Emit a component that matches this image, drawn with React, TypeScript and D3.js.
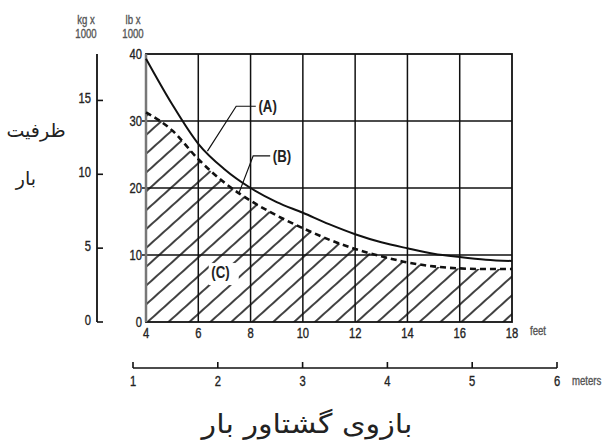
import { area, curveMonotoneX, line, scaleLinear } from 'd3'

// load moment (lb x 1000) against load radius (feet)
const feet = [4, 5, 6, 7, 8, 9, 10, 11, 12, 13, 14, 15, 16, 17, 18]
const curveA = [39.3, 32.5, 26.6, 22.8, 20.0, 17.9, 16.3, 14.6, 13.1, 11.9, 11.0, 10.2, 9.7, 9.3, 9.1]
const curveB = [31.3, 28.6, 24.3, 20.8, 18.1, 15.9, 14.0, 12.3, 10.9, 9.8, 8.9, 8.3, 8.0, 7.9, 7.9]

const feetTicks = [4, 6, 8, 10, 12, 14, 16, 18]
const lbTicks = [0, 10, 20, 30, 40]
const kgTicks = [0, 5, 10, 15]
const meterTicks = [1, 2, 3, 4, 5, 6]

const yTitle = ['ظرفیت', 'بار']
const xTitle = 'بازوی گشتاور بار'

const W = 615
const H = 441
const FONT = "'Liberation Sans', Arial, sans-serif"
const FA = "'DejaVu Sans', sans-serif"

// condensed text: Liberation Sans squeezed horizontally
function T({
  x,
  y,
  size = 13,
  anchor = 'start',
  fill = '#222',
  bold = false,
  sx = 0.8,
  children,
}: {
  x: number
  y: number
  size?: number
  anchor?: 'start' | 'middle' | 'end'
  fill?: string
  bold?: boolean
  sx?: number
  children: React.ReactNode
}) {
  return (
    <text
      transform={`translate(${x},${y}) scale(${sx},1)`}
      textAnchor={anchor}
      fontFamily={FONT}
      fontSize={size}
      fontWeight={bold ? 'bold' : 'normal'}
      fill={fill}
      stroke={bold ? 'none' : fill}
      strokeWidth={bold ? 0 : 0.35}
    >
      {children}
    </text>
  )
}

export default function App() {
  const x = scaleLinear().domain([4, 18]).range([146, 512])
  const y = scaleLinear().domain([0, 40]).range([322, 54])
  const yKg = scaleLinear().domain([0, 40 / 2.2046]).range([322, 54])
  const xM = scaleLinear().domain([1, 6]).range([133, 557])

  const pts = (vals: number[]) => feet.map((f, i) => [f, vals[i]] as [number, number])

  const lineGen = line<[number, number]>()
    .x((d) => x(d[0]))
    .y((d) => y(d[1]))
    .curve(curveMonotoneX)

  const areaGen = area<[number, number]>()
    .x((d) => x(d[0]))
    .y0(y(0))
    .y1((d) => y(d[1]))
    .curve(curveMonotoneX)

  const gridX = feetTicks.slice(1, -1)
  const gridY = lbTicks.slice(1, -1)

  return (
    <svg
      width={W}
      height={H}
      style={{ position: 'absolute', left: 0, top: 0, background: '#fff' }}
    >
      <defs>
        <pattern
          id="hatch"
          patternUnits="userSpaceOnUse"
          width={14}
          height={14}
          patternTransform="rotate(48)"
        >
          <line x1={2} y1={0} x2={2} y2={14} stroke="#111" strokeWidth={1.6} />
        </pattern>
      </defs>

      {/* hatched region under curve B */}
      <path d={areaGen(pts(curveB)) ?? ''} fill="url(#hatch)" />

      {/* grid */}
      {gridX.map((f) => (
        <line key={'gx' + f} x1={x(f)} x2={x(f)} y1={y(40)} y2={y(0)} stroke="#111" strokeWidth={1.5} />
      ))}
      {gridY.map((v) => (
        <line key={'gy' + v} x1={x(4) - 4} x2={x(18)} y1={y(v)} y2={y(v)} stroke="#111" strokeWidth={1.5} />
      ))}
      <rect
        x={x(4)}
        y={y(40)}
        width={x(18) - x(4)}
        height={y(0) - y(40)}
        fill="none"
        stroke="#111"
        strokeWidth={1.8}
      />
      <line x1={x(4)} x2={x(4)} y1={y(40)} y2={y(0)} stroke="#777" strokeWidth={2.5} />

      {/* curves */}
      <path d={lineGen(pts(curveA)) ?? ''} fill="none" stroke="#111" strokeWidth={2} />
      <path
        d={lineGen(pts(curveB)) ?? ''}
        fill="none"
        stroke="#111"
        strokeWidth={2.6}
        strokeDasharray="6 4"
      />

      {/* leaders and labels */}
      <polyline
        points={`${x(6.35)},${y(25.5)} ${x(7.45)},${y(32.2)} ${x(8.2)},${y(32.2)}`}
        fill="none"
        stroke="#111"
        strokeWidth={1.2}
      />
      <T x={x(8.3)} y={y(32.2) + 6} size={17} bold sx={0.78}>
        (A)
      </T>
      <polyline
        points={`${x(7.55)},${y(19.2)} ${x(8.1)},${y(24.8)} ${x(8.75)},${y(24.8)}`}
        fill="none"
        stroke="#111"
        strokeWidth={1.2}
      />
      <T x={x(8.85)} y={y(24.8) + 6} size={17} bold sx={0.78}>
        (B)
      </T>
      <rect x={x(6.4)} y={y(8.8)} width={30} height={22} fill="#fff" />
      <T x={x(6.5)} y={y(6.6)} size={17} bold sx={0.78}>
        (C)
      </T>

      {/* lb axis labels */}
      {lbTicks.map((v) => (
        <T key={'lb' + v} x={x(4) - 4} y={y(v) + 5} anchor="end" size={14}>
          {v}
        </T>
      ))}

      {/* feet axis labels */}
      {feetTicks.map((f) => (
        <T key={'ft' + f} x={x(f)} y={338} anchor="middle" size={14}>
          {f}
        </T>
      ))}
      <T x={530} y={335} size={12} fill="#555">
        feet
      </T>

      {/* kg axis */}
      <line x1={97} x2={97} y1={54} y2={yKg(0)} stroke="#111" strokeWidth={1.8} />
      {kgTicks.map((v) => (
        <g key={'kg' + v}>
          <line x1={97} x2={103} y1={yKg(v)} y2={yKg(v)} stroke="#111" strokeWidth={1.6} />
          <T x={91} y={yKg(v) + 3} anchor="end" size={14}>
            {v}
          </T>
        </g>
      ))}

      {/* unit headers */}
      <T x={86} y={24} anchor="middle" size={12} fill="#555">
        kg x
      </T>
      <T x={86} y={38} anchor="middle" size={12} fill="#555">
        1000
      </T>
      <T x={133} y={24} anchor="middle" size={12} fill="#555">
        lb x
      </T>
      <T x={133} y={38} anchor="middle" size={12} fill="#555">
        1000
      </T>

      {/* meters axis */}
      <line x1={xM(1)} x2={xM(6)} y1={368} y2={368} stroke="#111" strokeWidth={1.6} />
      {meterTicks.map((m) => (
        <g key={'m' + m}>
          <line x1={xM(m)} x2={xM(m)} y1={362} y2={368} stroke="#111" strokeWidth={1.6} />
          <T x={xM(m)} y={386} anchor="middle" size={14}>
            {m}
          </T>
        </g>
      ))}
      <T x={572} y={385} size={12} fill="#555">
        meters
      </T>

      {/* Persian titles */}
      <text x={36} y={137} textAnchor="middle" fontFamily={FA} fontSize={19} fill="#222">
        {yTitle[0]}
      </text>
      <text x={26} y={185} textAnchor="middle" fontFamily={FA} fontSize={19} fill="#222">
        {yTitle[1]}
      </text>
      <text
        transform="translate(307,433) scale(1.12,1)"
        textAnchor="middle"
        fontFamily={FA}
        fontSize={27}
        fill="#222"
      >
        {xTitle}
      </text>
    </svg>
  )
}
